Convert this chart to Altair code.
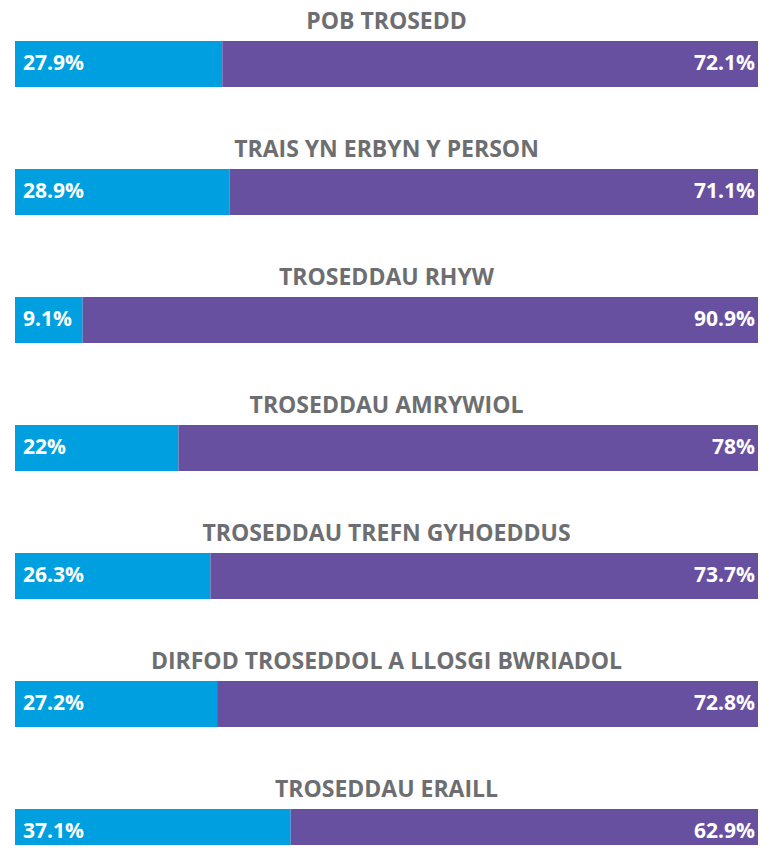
import altair as alt
import pandas as pd

categories = [
    "POB TROSEDD",
    "TRAIS YN ERBYN Y PERSON",
    "TROSEDDAU RHYW",
    "TROSEDDAU AMRYWIOL",
    "TROSEDDAU TREFN GYHOEDDUS",
    "DIRFOD TROSEDDOL A LLOSGI BWRIADOL",
    "TROSEDDAU ERAILL",
]
blue_values = [27.9, 28.9, 9.1, 22, 26.3, 27.2, 37.1]
purple_values = [72.1, 71.1, 90.9, 78, 73.7, 72.8, 62.9]
series_names = ["A", "B"]
series_colors = ["#009FE0", "#6750A0"]

rows = []
for c, b, p in zip(categories, blue_values, purple_values):
    rows.append({"category": c, "series": "A", "order": 0, "value": b, "label": f"{b:g}%"})
    rows.append({"category": c, "series": "B", "order": 1, "value": p, "label": f"{p:g}%"})
df = pd.DataFrame(rows)

FONT = "Open Sans, sans-serif"

y_enc = alt.Y("category:N", sort=categories, axis=None,
              scale=alt.Scale(range=[-12, 884], paddingInner=0, paddingOuter=0))
x_scale = alt.Scale(domain=[0, 100], nice=False, zero=True)

base = alt.Chart(df)

bars = base.mark_bar(height=46).encode(
    x=alt.X("value:Q", stack="zero", scale=x_scale, axis=None),
    y=y_enc,
    color=alt.Color("series:N", scale=alt.Scale(domain=series_names, range=series_colors), legend=None),
    order=alt.Order("order:Q"),
)

left_labels = base.transform_filter(alt.datum.series == "A").mark_text(
    align="left", baseline="middle", dx=8, dy=0, font=FONT, fontSize=21, fontWeight="bold", color="white"
).encode(x=alt.datum(0), y=y_enc, text="label:N")

right_labels = base.transform_filter(alt.datum.series == "B").mark_text(
    align="right", baseline="middle", dx=-3, dy=0, font=FONT, fontSize=21, fontWeight="bold", color="white"
).encode(x=alt.datum(100), y=y_enc, text="label:N")

titles = base.transform_filter(alt.datum.series == "A").mark_text(
    align="center", baseline="middle", dy=-42, font=FONT, fontSize=23, fontWeight="bold", color="#6D6E71"
).encode(x=alt.datum(50), y=y_enc, text="category:N")

chart = alt.layer(bars, left_labels, right_labels, titles).properties(
    width=743, height=833,
    padding={"left": 7, "top": 4, "right": 0, "bottom": 0},
    autosize=alt.AutoSizeParams(type="none"),
).configure_view(stroke=None)

chart.save("out.html", embed_options={"renderer": "svg", "actions": False})
